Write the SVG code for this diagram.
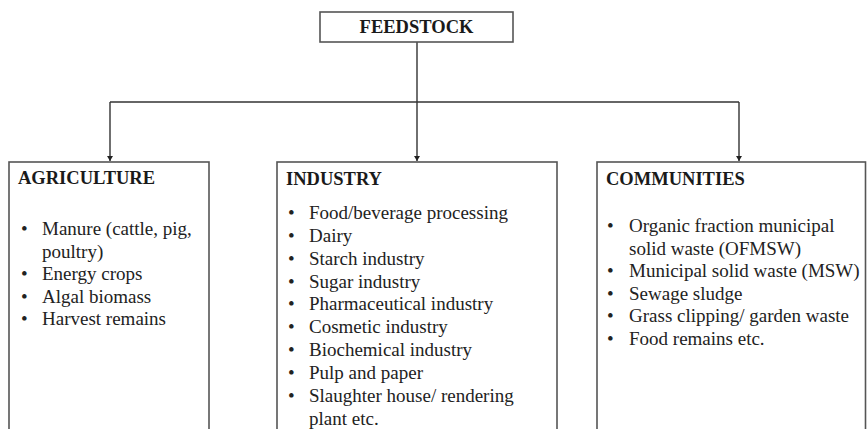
<svg xmlns="http://www.w3.org/2000/svg" width="867" height="429" viewBox="0 0 867 429">
<style>
.box{fill:#fff;stroke:#555;stroke-width:1.6}
.con{fill:none;stroke:#333;stroke-width:1.4}
.h{font-family:"Liberation Serif","Times New Roman",serif;font-weight:bold;font-size:18.5px;fill:#1a1a1a}
.t{font-family:"Liberation Serif","Times New Roman",serif;font-size:19px;fill:#222}
</style>
<defs>
<marker id="ah" markerWidth="6" markerHeight="6" refX="5" refY="3" orient="auto" markerUnits="userSpaceOnUse">
<path d="M0,0 L5,3 L0,6 Z" fill="#222"/>
</marker>
</defs>
<rect width="867" height="429" fill="#fff"/>
<g id="connectors">
<path class="con" d="M417,42 V102"/>
<path class="con" d="M110,102 H739"/>
<path class="con" d="M110,102 V161" marker-end="url(#ah)"/>
<path class="con" d="M417,102 V161" marker-end="url(#ah)"/>
<path class="con" d="M739,102 V161" marker-end="url(#ah)"/>
</g>
<g id="feedstock">
<rect class="box" x="320" y="12" width="193" height="30"/>
<text class="h" x="416.5" y="33" text-anchor="middle">FEEDSTOCK</text>
</g>
<g id="agriculture">
<rect class="box" x="9" y="162" width="200" height="290"/>
<text class="h" x="18" y="184">AGRICULTURE</text>
<g class="t">
<text x="21" y="235">•</text><text x="42" y="235">Manure (cattle, pig,</text>
<text x="42" y="257.5">poultry)</text>
<text x="21" y="280">•</text><text x="42" y="280">Energy crops</text>
<text x="21" y="302.5">•</text><text x="42" y="302.5">Algal biomass</text>
<text x="21" y="325">•</text><text x="42" y="325">Harvest remains</text>
</g>
</g>
<g id="industry">
<rect class="box" x="277" y="162" width="280" height="290"/>
<text class="h" x="286" y="185">INDUSTRY</text>
<g class="t">
<text x="288" y="219">•</text><text x="309" y="219">Food/beverage processing</text>
<text x="288" y="241.8">•</text><text x="309" y="241.8">Dairy</text>
<text x="288" y="264.7">•</text><text x="309" y="264.7">Starch industry</text>
<text x="288" y="287.5">•</text><text x="309" y="287.5">Sugar industry</text>
<text x="288" y="310.3">•</text><text x="309" y="310.3">Pharmaceutical industry</text>
<text x="288" y="333.2">•</text><text x="309" y="333.2">Cosmetic industry</text>
<text x="288" y="356">•</text><text x="309" y="356">Biochemical industry</text>
<text x="288" y="378.8">•</text><text x="309" y="378.8">Pulp and paper</text>
<text x="288" y="401.7">•</text><text x="309" y="401.7">Slaughter house/ rendering</text>
<text x="309" y="424.5">plant etc.</text>
</g>
</g>
<g id="communities">
<rect class="box" x="597" y="162" width="268.5" height="290"/>
<text class="h" x="606" y="185">COMMUNITIES</text>
<g class="t">
<text x="607" y="232">•</text><text x="629" y="232">Organic fraction municipal</text>
<text x="629" y="254.5">solid waste (OFMSW)</text>
<text x="607" y="277">•</text><text x="629" y="277">Municipal solid waste (MSW)</text>
<text x="607" y="299.5">•</text><text x="629" y="299.5">Sewage sludge</text>
<text x="607" y="322">•</text><text x="629" y="322">Grass clipping/ garden waste</text>
<text x="607" y="344.5">•</text><text x="629" y="344.5">Food remains etc.</text>
</g>
</g>
</svg>
